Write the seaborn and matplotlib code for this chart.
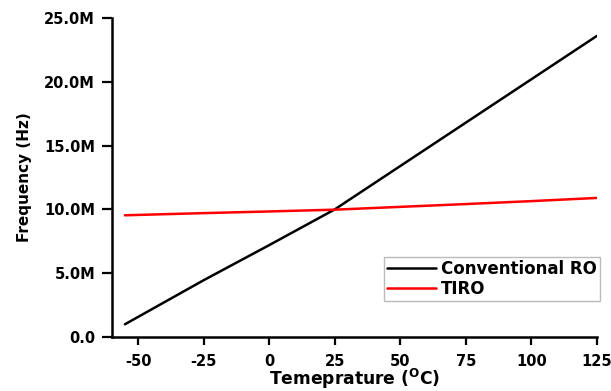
import matplotlib
matplotlib.use("Agg")
import matplotlib.pyplot as plt
import seaborn as sns
import pandas as pd

temps = [-55, -25, 0, 25, 50, 75, 100, 125]
conventional_ro = [1.0e6, 4.45e6, 7.2e6, 10.0e6, 13.4e6, 16.8e6, 20.2e6, 23.6e6]
tiro = [9.54e6, 9.71e6, 9.84e6, 9.98e6, 10.2e6, 10.42e6, 10.65e6, 10.9e6]
series_names = ["Conventional RO", "TIRO"]
x_ticks = [-50, -25, 0, 25, 50, 75, 100, 125]
y_ticks = [0, 5e6, 10e6, 15e6, 20e6, 25e6]
y_tick_labels = ["0.0", "5.0M", "10.0M", "15.0M", "20.0M", "25.0M"]

sns.set_style("ticks")
plt.rcParams['font.family'] = ['DejaVu Sans']
plt.rcParams['font.weight'] = 'bold'
plt.rcParams['mathtext.fontset'] = 'custom'
plt.rcParams['mathtext.rm'] = 'DejaVu Sans:bold'
plt.rcParams['mathtext.bf'] = 'DejaVu Sans:bold'
for k in ['text.color', 'axes.labelcolor', 'xtick.color', 'ytick.color', 'axes.edgecolor']:
    plt.rcParams[k] = 'black'

df = pd.DataFrame({
    "T": temps * 2,
    "F": conventional_ro + tiro,
    "Series": [series_names[0]] * len(temps) + [series_names[1]] * len(temps),
})

fig = plt.figure(figsize=(6.11, 3.91), dpi=100)
ax = fig.add_axes([0.183, 0.138, 0.794, 0.816])
sns.lineplot(data=df, x="T", y="F", hue="Series",
             palette={series_names[0]: "black", series_names[1]: "red"},
             linewidth=1.8, ax=ax)

ax.set_xlim(-60, 125)
ax.set_ylim(0, 25e6)
ax.set_xticks(x_ticks)
ax.set_xticklabels([str(t) for t in x_ticks])
ax.set_yticks(y_ticks)
ax.set_yticklabels(y_tick_labels)
for lab in ax.get_xticklabels() + ax.get_yticklabels():
    lab.set_fontweight('bold')
    lab.set_fontsize(10.5)
    lab.set_color('black')
ax.tick_params(axis='y', direction='out', length=7, width=1.6, pad=5, colors='black')
ax.tick_params(axis='x', direction='out', length=6, width=1.6, pad=6, colors='black')
for s in ['left', 'bottom']:
    ax.spines[s].set_linewidth(1.8)
    ax.spines[s].set_color('black')
for s in ['top', 'right']:
    ax.spines[s].set_visible(False)

ax.set_xlabel(r"Temeprature ($^{\rm O}$C)", fontsize=12.3, fontweight='bold', labelpad=-1, color='black')
ax.set_ylabel("Frequency (Hz)", fontsize=11, fontweight='bold', labelpad=9, color='black')

leg = ax.legend(loc='lower right', bbox_to_anchor=(1.006, 0.113), frameon=True, fancybox=False,
                handlelength=2.9, fontsize=12, borderpad=0.2, labelspacing=0.1,
                handletextpad=0.3, borderaxespad=0.0)
leg.get_frame().set_edgecolor('#aaaaaa')
leg.get_frame().set_linewidth(1.0)
for t in leg.get_texts():
    t.set_fontweight('bold')
    t.set_color('black')
leg.set_title(None)

fig.savefig("out.png", dpi=100)
